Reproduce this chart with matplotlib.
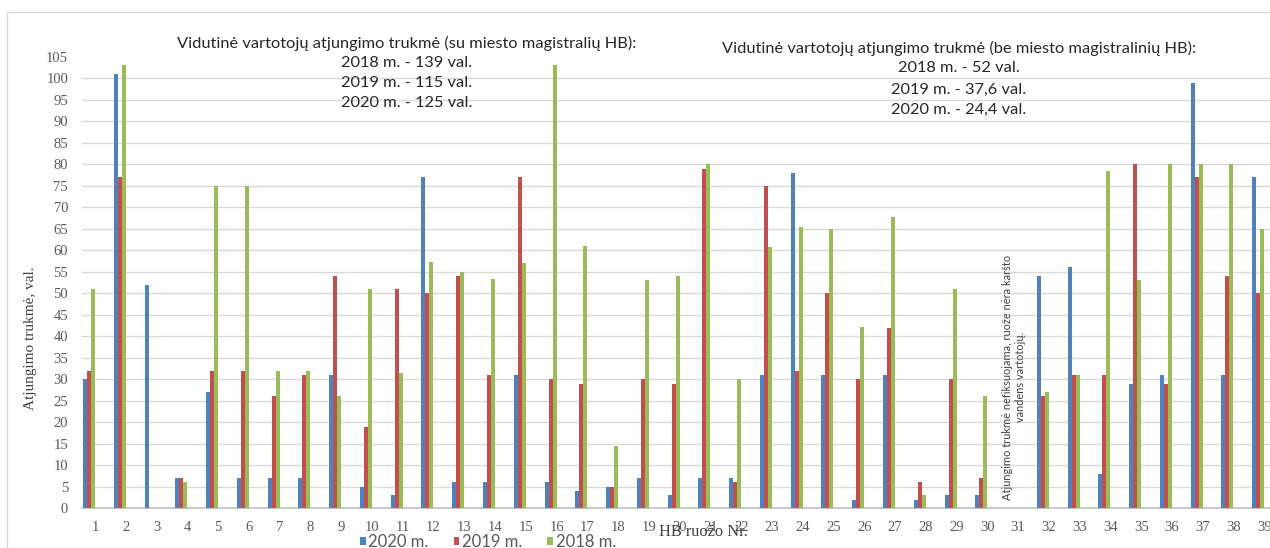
import matplotlib.pyplot as plt
from matplotlib.patches import Rectangle
from matplotlib.transforms import ScaledTranslation
import numpy as np

# HB ruozai 1..39, atjungimo trukme (val.)
ruozai = list(range(1, 40))
v2020 = [30, 101, 52, 7, 27, 7, 7, 7, 31, 5, 3, 77, 6, 6, 31, 6, 4, 5, 7, 3,
         7, 7, 31, 78, 31, 2, 31, 2, 3, 3, 0, 54, 56, 8, 29, 31, 99, 31, 77]
v2019 = [32, 77, 0, 7, 32, 32, 26, 31, 54, 19, 51, 50, 54, 31, 77, 30, 29, 5, 30, 29,
         79, 6, 75, 32, 50, 30, 42, 6, 30, 7, 0, 26, 31, 31, 80, 29, 77, 54, 50]
v2018 = [51, 103, 0, 6, 75, 75, 32, 32, 26, 51, 31.4, 57.3, 55, 53.3, 57, 103, 61, 14.5, 53, 54,
         80, 30, 60.7, 65.5, 65, 42.2, 67.7, 3, 51, 26, 0, 27, 31, 78.5, 53, 80, 80, 80, 65]

series = ["2020 m.", "2019 m.", "2018 m."]
colors = ["#4F81BD", "#C0504D", "#9BBB59"]

note1 = ["Vidutinė vartotojų atjungimo trukmė (su miesto magistralių HB):",
         "2018 m. - 139 val.", "2019 m. - 115 val.", "2020 m. - 125 val."]
note2 = ["Vidutinė vartotojų atjungimo trukmė (be miesto magistralinių HB):",
         "2018 m. - 52 val.", "2019 m. - 37,6 val.", "2020 m. - 24,4 val."]
note31 = "Atjungimo trukmė nefiksuojama, ruože nėra karšto\nvandens vartotojų."

W, H = 1270, 548
fig = plt.figure(figsize=(W / 100, H / 100), dpi=100)
ax = fig.add_axes([82 / W, 39.7 / H, (1273.6 - 82) / W, 451.6 / H])

x = np.array(ruozai)
w = 0.13
for k, vals in enumerate([v2020, v2019, v2018]):
    ax.bar(x + (k - 1) * w, vals, width=w, color=colors[k], linewidth=0,
           label=series[k], zorder=3)

ax.set_xlim(0.7725, 39.5)
ax.set_ylim(0, 105)
ax.set_yticks(range(0, 106, 5))
ax.set_xticks(ruozai)
ax.grid(axis="y", color="#d9d9d9", linewidth=1, zorder=0)
ax.yaxis.get_gridlines()[-1].set_visible(False)
for s in ["top", "right", "left"]:
    ax.spines[s].set_visible(False)
ax.spines["bottom"].set_color("#bfbfbf")
ax.spines["bottom"].set_linewidth(1.2)
ax.tick_params(length=0, labelcolor="#595959")
ax.tick_params(axis="x", pad=9)
ax.tick_params(axis="y", pad=10)
for lbl in ax.get_xticklabels() + ax.get_yticklabels():
    lbl.set_fontfamily("Liberation Serif")
    lbl.set_fontsize(10.5)
# labels in the original sit a few pixels right of the bar groups
for lbl in ax.get_xticklabels():
    lbl.set_transform(lbl.get_transform() + ScaledTranslation(6 / 100, 0, fig.dpi_scale_trans))

ax.set_ylabel("Atjungimo trukmė, val.", family="Liberation Serif", fontsize=11, color="#404040")
ax.yaxis.set_label_coords(-0.038, 0.377)
fig.text(703 / W, 1 - 532 / H, "HB ruožo Nr.", family="Liberation Serif", fontsize=11.8,
         color="#404040", ha="center", va="center")

ys1 = [43, 63, 83, 103]
ys2 = [48, 68, 90, 110]
for line, y in zip(note1, ys1):
    fig.text(407 / W, 1 - y / H, line, family="Lato", fontsize=11.8, color="#262626",
             ha="center", va="center")
for line, y in zip(note2, ys2):
    fig.text(959 / W, 1 - y / H, line, family="Lato", fontsize=11.8, color="#262626",
             ha="center", va="center")

fig.text(1014 / W, 1 - 377 / H, note31, family="Lato", fontsize=7.9, color="#404040",
         rotation=90, ha="center", va="center", multialignment="center")

fig.legend(loc="upper left", bbox_to_anchor=(360 / W, 1 - 534 / H), ncol=3, frameon=False,
           prop={"family": "Lato", "size": 12}, labelcolor="#595959",
           handlelength=0.35, handleheight=0.35, handletextpad=0.15, columnspacing=1.5,
           borderpad=0, borderaxespad=0)

fig.add_artist(Rectangle((7 / W, -0.05), 1.1, (1 - 12 / H) + 0.05, transform=fig.transFigure,
                         fill=False, edgecolor="#d9d9d9", linewidth=1))

plt.savefig("out.png", dpi=100)
